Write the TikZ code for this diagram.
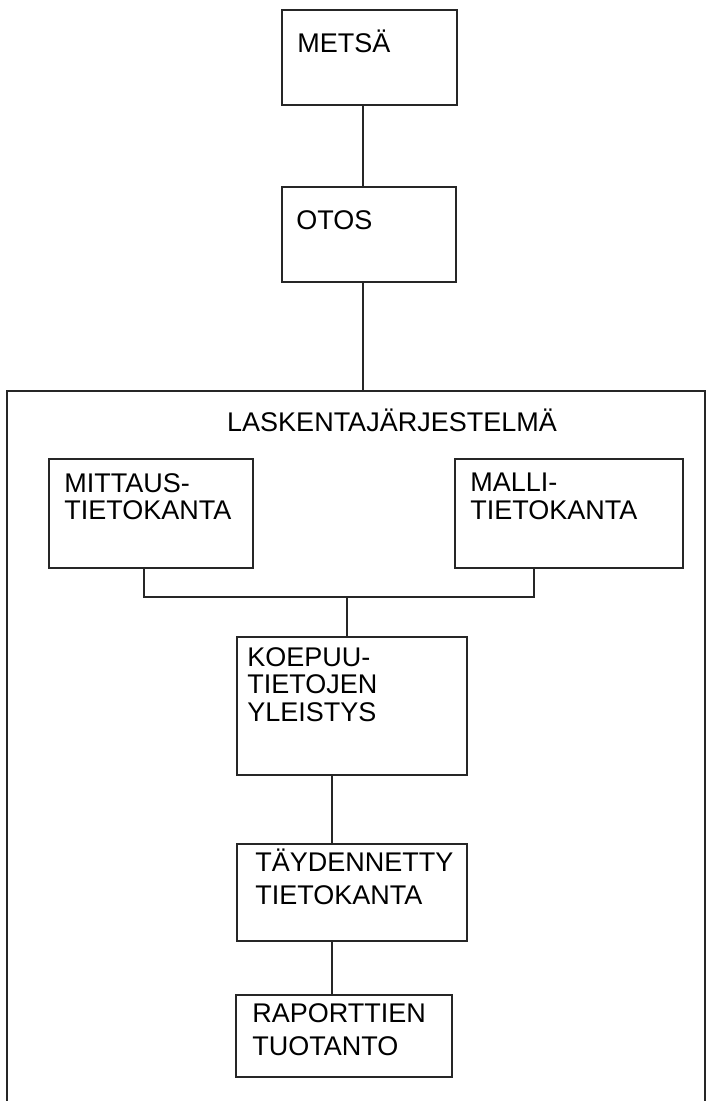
\documentclass[tikz,border=0pt]{standalone}
\usepackage{fontspec}
\setmainfont{Liberation Sans}
\usetikzlibrary{fit}
\tikzstyle{Box}=[draw=black!85,line width=1.5pt,inner sep=0pt]
\tikzstyle{Frame}=[draw=black!85,line width=1.5pt,inner sep=0pt]
\tikzstyle{BoxText}=[inner sep=0pt,anchor=north west,
text height=13.7pt,font=\fontsize{19.2}{19.6}\selectfont]
\tikzstyle{BoxLines}=[inner sep=0pt,anchor=north west,align=left,
font=\fontsize{19.2}{19.6}\selectfont]
\tikzstyle{BoxLinesW}=[BoxLines,font=\fontsize{19.2}{23.5}\selectfont]
\tikzstyle{Edge}=[draw=black!85,line width=1.5pt]

\begin{document}
\begin{tikzpicture}[x=0.025cm,y=-0.025cm]
        \useasboundingbox(0,0)rectangle(706,1101);
        \clip(0,0)rectangle(706,1101);
        \node[Box,fit={(282,10)(457,105)}](metsa){};
        \node[Box,fit={(282,187)(456,282)}](otos){};
        \node[Frame,fit={(7,391)(705,1130)}](frame){};
        \node[Box,fit={(49,459)(253,568)}](mittaus){};
        \node[Box,fit={(455,459)(683,568)}](malli){};
        \node[Box,fit={(237,637)(467,775)}](koepuu){};
        \node[Box,fit={(237,844)(467,941)}](tayd){};
        \node[Box,fit={(236,995)(452,1077)}](rap){};
        \node[BoxText](metsaT)at(297,33){METSÄ};
        \node[BoxText](otosT)at(296,210){OTOS};
        \node[BoxText,anchor=north](laskentaT)at(392,412)
            {LASKENTAJÄRJESTELMÄ};
        \node[BoxLines](mittausT)at(64,473){MITTAUS-\\TIETOKANTA};
        \node[BoxLines](malliT)at(470,473){MALLI-\\TIETOKANTA};
        \node[BoxLines](koepuuT)at(247,647)
            {KOEPUU-\\TIETOJEN\\YLEISTYS};
        \node[BoxLinesW](taydT)at(255,848.4){TÄYDENNETTY\\TIETOKANTA};
        \node[BoxLinesW](rapT)at(252,1003){RAPORTTIEN\\TUOTANTO};
        \coordinate(join)at(347,597);
        \draw[Edge]([xshift=-0.16cm]metsa.south)
            --([xshift=-0.16cm]metsa.south|-otos.north);
        \draw[Edge]([xshift=-0.15cm]otos.south)
            --([xshift=-0.15cm]otos.south|-frame.north);
        \draw[Edge]([xshift=-0.175cm]mittaus.south)|-(join)
            -|([xshift=-0.875cm]malli.south);
        \draw[Edge](join)--(join|-koepuu.north);
        \draw[Edge]([xshift=-0.5cm]koepuu.south)
            --([xshift=-0.5cm]koepuu.south|-tayd.north);
        \draw[Edge]([xshift=-0.5cm]tayd.south)
            --([xshift=-0.5cm]tayd.south|-rap.north);
    \end{tikzpicture}
\end{document}
